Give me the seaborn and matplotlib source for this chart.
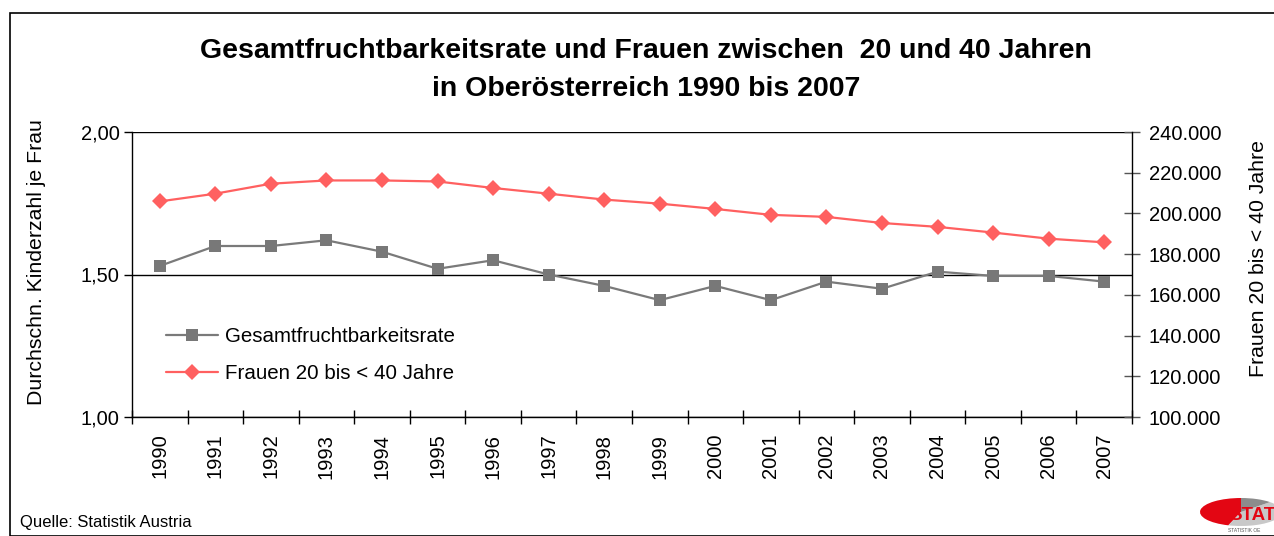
import matplotlib
matplotlib.use("Agg")
import matplotlib.pyplot as plt
import seaborn as sns
import numpy as np
import pandas as pd
from matplotlib.ticker import FuncFormatter, FixedLocator
from matplotlib.patches import Rectangle

years = ["1990", "1991", "1992", "1993", "1994", "1995", "1996", "1997", "1998",
         "1999", "2000", "2001", "2002", "2003", "2004", "2005", "2006", "2007"]
tfr = [1.53, 1.60, 1.60, 1.62, 1.58, 1.52, 1.55, 1.50, 1.46,
       1.41, 1.46, 1.41, 1.475, 1.45, 1.51, 1.495, 1.495, 1.475]
frauen = [205900, 209700, 214600, 216200, 216200, 215700, 212500, 209700, 206800,
          204800, 202200, 199300, 198300, 195300, 193400, 190600, 187600, 185800]

title = "Gesamtfruchtbarkeitsrate und Frauen zwischen  20 und 40 Jahren\nin Oberösterreich 1990 bis 2007"
left_label = "Durchschn. Kinderzahl je Frau"
right_label = "Frauen 20 bis < 40 Jahre"
series_names = ["Gesamtfruchtbarkeitsrate", "Frauen 20 bis < 40 Jahre"]
source = "Quelle: Statistik Austria"

sns.set_theme(style="white")
plt.rcParams["font.family"] = ["Liberation Sans", "DejaVu Sans"]
for k in ("text.color", "axes.labelcolor", "xtick.color", "ytick.color"):
    plt.rcParams[k] = "black"

df = pd.DataFrame({"pos": np.arange(len(years)), "year": years, "tfr": tfr, "frauen": frauen})

W, H = 1274, 536
fig = plt.figure(figsize=(W / 100, H / 100), dpi=100)
fig.patch.set_facecolor("white")

# outer frame
fig.patches.append(Rectangle((10 / W, 0), 1.2, 1 - 13 / H, transform=fig.transFigure,
                             fill=False, edgecolor="black", linewidth=1.2))

ax = fig.add_axes([132 / W, 1 - 417 / H, 1000 / W, 285 / H])
ax2 = ax.twinx()

gray = "#7a7a7a"
red = "#ff6060"

sns.lineplot(data=df, x="pos", y="tfr", ax=ax, color=gray, linewidth=1.6,
             marker="s", markersize=8, markeredgewidth=0, markerfacecolor="#787878",
             label=series_names[0], legend=False)
sns.lineplot(data=df, x="pos", y="frauen", ax=ax2, color=red, linewidth=1.6,
             marker="D", markersize=8, markeredgewidth=0, markerfacecolor=red,
             label=series_names[1], legend=False)

ax.set_xlim(-0.5, len(years) - 0.5)
ax.set_ylim(1.0, 2.0)
ax2.set_ylim(100000, 240000)

ax.set_yticks([1.0, 1.5, 2.0])
ax.yaxis.set_major_formatter(FuncFormatter(lambda v, p: f"{v:.2f}".replace(".", ",")))
ax2.set_yticks(np.arange(100000, 240001, 20000))
ax2.yaxis.set_major_formatter(FuncFormatter(lambda v, p: f"{int(v):,}".replace(",", ".")))

ax.set_xticks(np.arange(len(years)))
ax.set_xticklabels(years, rotation=90, fontsize=14.5)
ax.xaxis.set_minor_locator(FixedLocator(np.arange(-0.5, len(years), 1.0)))
ax.tick_params(axis="x", which="major", length=0, pad=12, colors="black")
ax.tick_params(axis="x", which="minor", length=10, width=1, direction="inout", color="black", bottom=True)

ax.tick_params(axis="y", which="major", length=6, width=1, direction="out", colors="black",
               labelsize=14.5, pad=3, left=True)
ax2.tick_params(axis="y", which="major", length=12, width=1, direction="inout", color="#555555",
                labelcolor="black", labelsize=14.5, pad=6, right=True)

ax.grid(False)
ax2.grid(False)
ax.yaxis.grid(True, color="black", linewidth=1)
ax.set_axisbelow(True)

for a in (ax, ax2):
    a.spines["top"].set_visible(False)
    for s in ("left", "right", "bottom"):
        a.spines[s].set_color("black")
        a.spines[s].set_linewidth(1)
ax.spines["right"].set_visible(False)
ax2.spines["left"].set_visible(False)
ax2.spines["bottom"].set_visible(False)

ax.set_xlabel("")
ax.set_ylabel("")
ax2.set_ylabel("")
fig.text(37 / W, 1 - 262 / H, left_label, rotation=90, ha="center", va="center", fontsize=15.3)
fig.text(1258 / W, 1 - 259 / H, right_label, rotation=90, ha="center", va="center", fontsize=15.3)

fig.text(646 / W, 1 - 70.5 / H, title, ha="center", va="center", fontsize=20.5,
         fontweight="bold", linespacing=1.6)

h1, l1 = ax.get_legend_handles_labels()
h2, l2 = ax2.get_legend_handles_labels()
leg = ax2.legend(h1 + h2, l1 + l2, loc="upper left", bbox_to_anchor=(0.026, 0.345),
                 frameon=False, fontsize=14.8, handlelength=2.5, handletextpad=0.35,
                 labelspacing=0.9, borderaxespad=0)

fig.text(20 / W, 1 - 522 / H, source, ha="left", va="center", fontsize=12)

# logo approximation
lax = fig.add_axes([1200 / W, 1 - 526 / H, 82 / W, 28 / H])
lax.pie([0.45, 0.425, 0.125], colors=["#e30613", "#c8c8c8", "#8c8c8c"], startangle=90,
        counterclock=True, wedgeprops=dict(linewidth=0))
lax.set_aspect("auto")
lax.set_xlim(-1, 1)
lax.set_ylim(-1, 1)
lax.axis("off")
fig.text(1229 / W, 1 - 516 / H, "STAT", ha="left", va="center", fontsize=13.5,
         fontweight="bold", color="#e30613", zorder=10)
fig.text(1228 / W, 1 - 531 / H, "STATISTIK OE", ha="left", va="center", fontsize=3.5,
         color="#555555")

fig.savefig("out.png", dpi=100)
